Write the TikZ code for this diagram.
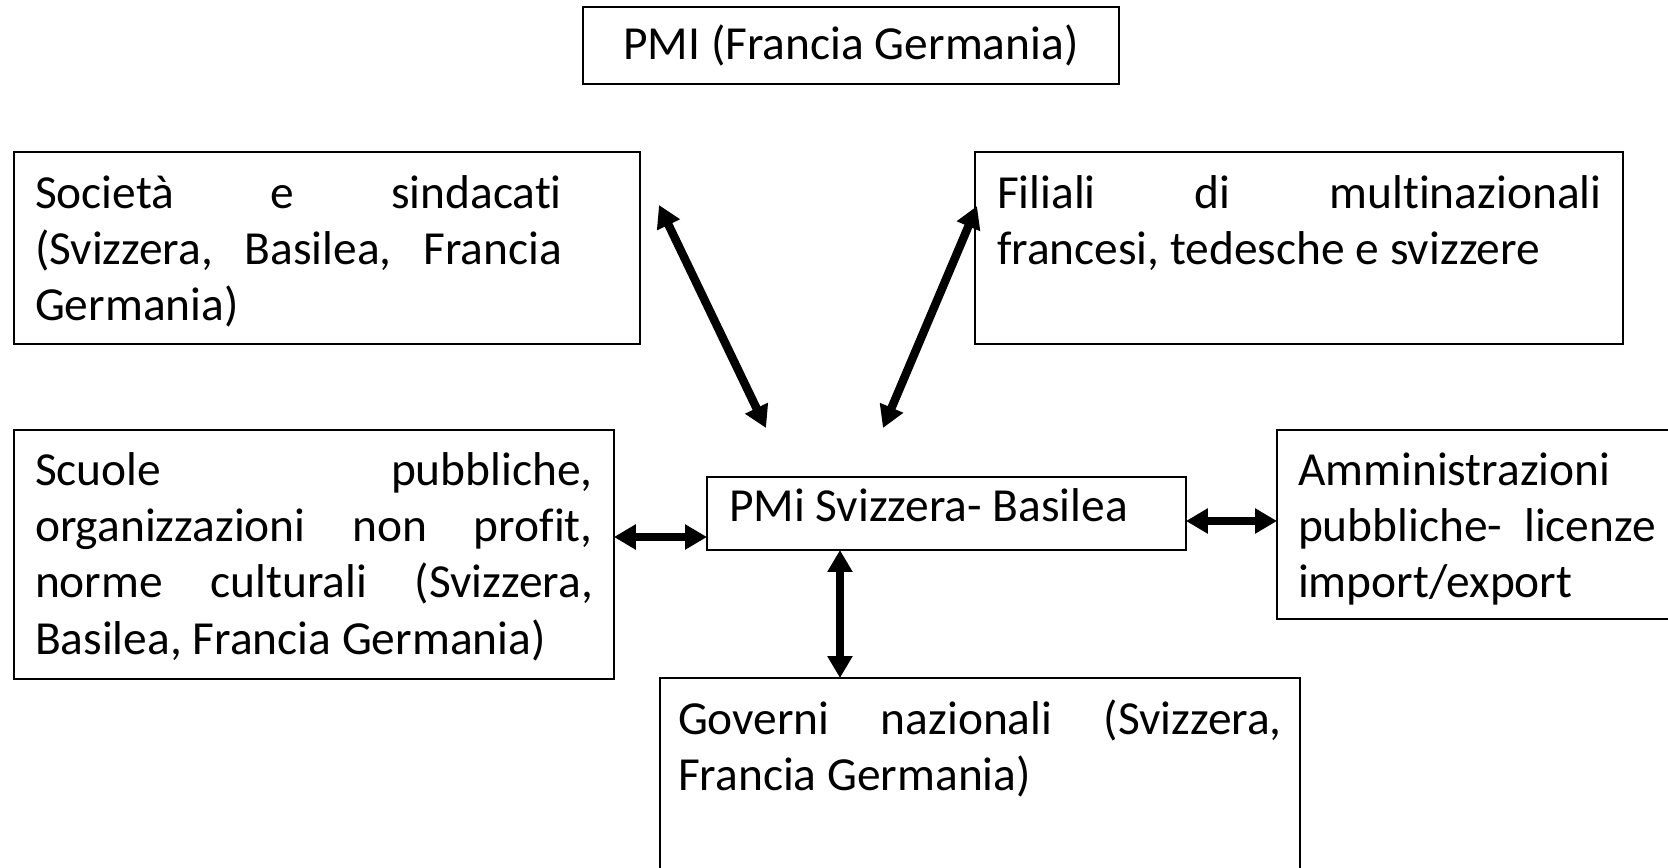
\documentclass[tikz,border=0pt]{standalone}
\usepackage{fontspec}
\setmainfont{Carlito}[RawFeature={-liga;-clig;-dlig;-calt;-rlig;-ccmp}]
\usetikzlibrary{arrows.meta}

\tikzset{
  box/.style={draw, line width=1pt, inner sep=0pt, outer sep=0pt, anchor=north west},
  txt/.style={inner sep=0pt, outer sep=0pt, anchor=base west, align=justify,
    font={\fontsize{27}{32.1}\selectfont\pretolerance=10000\hbadness=10000}},
  link/.style={line width=4.8pt, {Triangle[length=0.44cm,width=0.48cm]}-{Triangle[length=0.44cm,width=0.48cm]}},
}

\begin{document}
\begin{tikzpicture}[x=0.02cm, y=-0.02cm]
		\clip (0,0) rectangle (1668,867);
		%boxes
		\node[box, anchor=center, minimum width=10.72cm, minimum height=1.54cm,
		  font=\fontsize{27}{32.1}\selectfont] (pmifg) at (851,45.5) {PMI (Francia Germania)};
		\node[box, minimum width=12.52cm, minimum height=3.84cm] (soc) at (14,152) {};
		\node[box, minimum width=12.96cm, minimum height=3.84cm] (fil) at (975,152) {};
		\node[box, minimum width=12cm, minimum height=4.98cm] (scuole) at (14,430) {};
		\node[box, minimum width=9.58cm, minimum height=1.46cm] (pmi) at (707,477) {};
		\node[box, minimum width=8.86cm, minimum height=3.78cm] (ammin) at (1277,430) {};
		\node[box, minimum width=12.8cm, minimum height=4.84cm] (gov) at (660,678) {};
		%texts
		\node[txt, text width=10.54cm] (soctext) at (35,208) {Società e sindacati\linebreak (Svizzera, Basilea, Francia\linebreak Germania)};
		\node[txt, text width=12.1cm] (filtext) at (997,208) {Filiali di multinazionali\linebreak francesi, tedesche e svizzere};
		\node[txt, text width=11.16cm] (scuoletext) at (35,485) {Scuole pubbliche,\linebreak organizzazioni non profit,\linebreak norme culturali (Svizzera,\linebreak Basilea, Francia Germania)};
		\node[txt] (pmitext) at (729,521) {PMi Svizzera- Basilea};
		\node[txt, text width=7.16cm] (ammintext) at (1298,485) {Amministrazioni\linebreak pubbliche- licenze\linebreak import/export};
		\node[txt, text width=12.08cm] (govtext) at (678,734) {Governi nazionali (Svizzera,\linebreak Francia Germania)};
		%arrows
		\coordinate (socend) at (659,205);
		\coordinate (pmiendl) at (766,428);
		\coordinate (filend) at (977,206);
		\coordinate (pmiendr) at (883,428);
		\draw[link] (socend) -- (pmiendl);
		\draw[link] (filend) -- (pmiendr);
		\draw[link] ([yshift=-0.47cm]pmi.west) -- ([yshift=-0.47cm]pmi.west -| scuole.east);
		\draw[link] ([yshift=-0.15cm]pmi.east) -- ([yshift=-0.15cm]pmi.east -| ammin.west);
		\draw[link] ([xshift=-2.13cm]pmi.south) -- ([xshift=-2.13cm]pmi.south |- gov.north);
\end{tikzpicture}
\end{document}
